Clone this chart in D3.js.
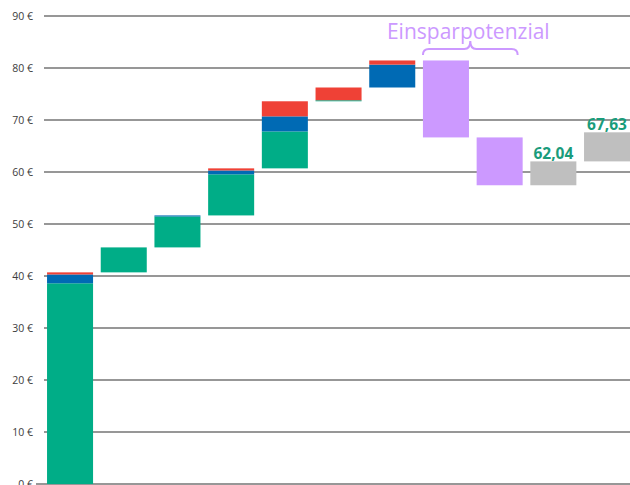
<!DOCTYPE html>
<html>
<head>
<meta charset="utf-8">
<script src="https://cdn.jsdelivr.net/npm/d3@7"></script>
<style>
  body { margin: 0; background: #fff; }
  svg { display: block; font-family: "Open Sans", "Noto Sans", sans-serif; }
</style>
</head>
<body>
<svg id="chart" width="630" height="485"></svg>
<script>
// waterfall steps, one entry per bar
const categories = ["S1", "S2", "S3", "S4", "S5", "S6", "S7", "E1", "E2", "R1", "R2"];
const greenStep = [38.6, 4.8, 5.95, 7.9, 7.1, 0.2, 0, 0, 0, 0, 0];
const blueStep  = [1.7, 0, 0.2, 0.75, 2.9, 0, 4.4, 0, 0, 0, 0];
const redStep   = [0.4, 0, 0, 0.4, 2.9, 2.45, 0.8, 0, 0, 0, 0];
const savingStep = [0, 0, 0, 0, 0, 0, 0, -14.8, -9.2, 0, 0];
const resultStep = [0, 0, 0, 0, 0, 0, 0, 0, 0, 4.59, 5.59];
const yTicks = [0, 10, 20, 30, 40, 50, 60, 70, 80, 90];
const braceLabel = "Einsparpotenzial";
const bracedBars = ["E1", "E2"];
const labelledBars = ["R1", "R2"];

const colors = {
  green: "#00ad87",
  blue: "#006ab4",
  red: "#ef4136",
  saving: "#cc99ff",
  result: "#bfbfbf"
};

const svg = d3.select("#chart");

const x = d3.scaleBand()
  .domain(categories)
  .range([43.2, 633.9])
  .paddingInner(0.143)
  .paddingOuter(0.0715);

const y = d3.scaleLinear().domain([0, 90]).range([484, 16]);

// gridlines
svg.append("g")
  .selectAll("line")
  .data(yTicks)
  .enter()
  .append("line")
  .attr("x1", d => d === 0 ? 36 : 44)
  .attr("x2", 630)
  .attr("y1", d => y(d))
  .attr("y2", d => y(d))
  .attr("stroke", "#747474")
  .attr("stroke-width", 1.6);

const yAxis = d3.axisLeft(y).tickValues(yTicks).tickSize(0).tickPadding(11)
  .tickFormat(d => d + " €");
const yAxisGroup = svg.append("g").attr("transform", "translate(44,0)").call(yAxis);
yAxisGroup.select(".domain").remove();
yAxisGroup.selectAll("text")
  .attr("font-size", "10.5px")
  .attr("font-family", "'Open Sans', sans-serif")
  .attr("fill", "#3c3c3c");

// build segments from the steps
let running = 0;
const segments = [];
const totals = [];
categories.forEach((cat, i) => {
  const parts = [
    ["green", greenStep[i]],
    ["blue", blueStep[i]],
    ["red", redStep[i]],
    ["saving", savingStep[i]],
    ["result", resultStep[i]]
  ];
  parts.forEach(([key, v]) => {
    if (v === 0) return;
    segments.push({ cat, key, from: running, to: running + v });
    running += v;
  });
  totals.push(running);
});

svg.append("g")
  .selectAll("rect")
  .data(segments)
  .enter()
  .append("rect")
  .attr("x", d => x(d.cat))
  .attr("width", x.bandwidth())
  .attr("y", d => y(Math.max(d.from, d.to)))
  .attr("height", d => Math.abs(y(d.from) - y(d.to)))
  .attr("fill", d => colors[d.key]);

// value labels
const de = d3.formatLocale({ decimal: ",", thousands: ".", grouping: [3], currency: ["", " €"] });
const fmt = de.format(".2f");

svg.append("g")
  .selectAll("text")
  .data(labelledBars)
  .enter()
  .append("text")
  .attr("x", d => x(d) + x.bandwidth() / 2)
  .attr("y", d => y(totals[categories.indexOf(d)]) - 2.5)
  .attr("text-anchor", "middle")
  .attr("font-size", "15.5px")
  .attr("font-weight", "bold")
  .attr("fill", "#1a9c7b")
  .text(d => fmt(totals[categories.indexOf(d)]));

// brace over savings
const bx0 = x(bracedBars[0]);
const bx1 = x(bracedBars[1]) + x.bandwidth() - 5;
const bm = (bx0 + bx1) / 2;
const by = 49, bTop = 41, bEnd = 55, r = 6;
const brace = d3.path();
brace.moveTo(bx0, bEnd);
brace.quadraticCurveTo(bx0, by, bx0 + r, by);
brace.lineTo(bm - r, by);
brace.quadraticCurveTo(bm, by, bm, bTop);
brace.quadraticCurveTo(bm, by, bm + r, by);
brace.lineTo(bx1 - r, by);
brace.quadraticCurveTo(bx1, by, bx1, bEnd);

svg.append("path")
  .attr("d", brace.toString())
  .attr("fill", "none")
  .attr("stroke", colors.saving)
  .attr("stroke-width", 2);

svg.append("text")
  .attr("x", bm - 2)
  .attr("y", 39)
  .attr("text-anchor", "middle")
  .attr("font-size", "21px")
  .attr("font-family", "'Open Sans', sans-serif")
  .attr("fill", colors.saving)
  .text(braceLabel);
</script>
</body>
</html>
